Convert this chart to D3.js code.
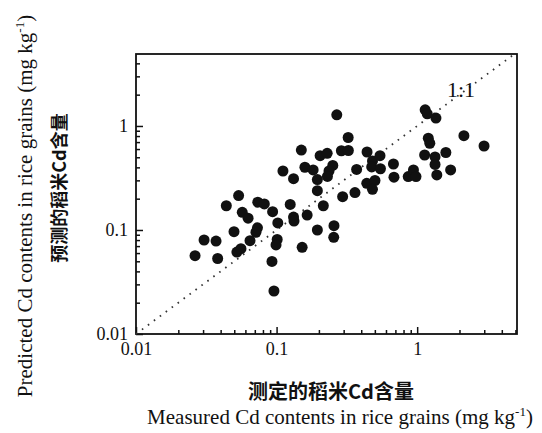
<!DOCTYPE html>
<html>
<head>
<meta charset="utf-8">
<script src="https://cdn.jsdelivr.net/npm/d3@7"></script>
<style>
  html, body { margin: 0; padding: 0; background: #fff; }
  svg { display: block; }
  .tick text { font-family: 'Liberation Serif', 'Times New Roman', serif !important; }
</style>
</head>
<body>
<svg id="chart" width="542" height="433"></svg>
<script>
// ---- data ----
const measured = [0.0263, 0.0305, 0.0371, 0.0381, 0.0439, 0.0498, 0.0522, 0.0558, 0.0537, 0.0570,
  0.0627, 0.0647, 0.0735, 0.0818, 0.0731, 0.0713, 0.0937, 0.102, 0.101, 0.0991,
  0.0927, 0.0958, 0.125, 0.132, 0.133, 0.165, 0.152, 0.195, 0.215, 0.256,
  0.255, 0.111, 0.132, 0.150, 0.159, 0.182, 0.195, 0.195, 0.204, 0.229,
  0.251, 0.236, 0.230, 0.268, 0.323, 0.289, 0.324, 0.295, 0.361, 0.371,
  0.440, 0.481, 0.544, 0.475, 0.548, 0.678, 0.684, 0.438, 0.501, 0.481,
  0.864, 0.941, 0.981, 1.14, 1.18, 1.36, 2.15, 2.99, 1.20, 1.23,
  1.13, 1.34, 1.60, 1.34, 1.38, 1.73];
const predicted = [0.0566, 0.0801, 0.0783, 0.0532, 0.171, 0.0964, 0.0614, 0.0661, 0.214, 0.148,
  0.130, 0.0789, 0.185, 0.178, 0.105, 0.0951, 0.150, 0.117, 0.0811, 0.0718,
  0.0498, 0.0259, 0.176, 0.133, 0.122, 0.139, 0.0682, 0.100, 0.171, 0.110,
  0.0851, 0.369, 0.311, 0.587, 0.401, 0.378, 0.305, 0.239, 0.518, 0.546,
  0.417, 0.369, 0.327, 1.28, 0.775, 0.578, 0.581, 0.209, 0.229, 0.382,
  0.562, 0.461, 0.518, 0.404, 0.388, 0.431, 0.322, 0.281, 0.299, 0.246,
  0.326, 0.378, 0.326, 1.43, 1.31, 1.19, 0.807, 0.642, 0.762, 0.682,
  0.526, 0.504, 0.556, 0.427, 0.338, 0.378];
const xTickValues = [0.01, 0.1, 1];
const xTickLabels = ["0.01", "0.1", "1"];
const yTickValues = [0.01, 0.1, 1];
const yTickLabels = ["0.01", "0.1", "1"];
const xDomain = [0.01, 5.13];
const yDomain = [0.01, 4.92];
const lineLabel = "1:1";
const xTitleCN = "测定的稻米Cd含量";
const xTitleEN = "Measured Cd contents in rice grains (mg kg";
const yTitleCN = "预测的稻米Cd含量";
const yTitleEN = "Predicted Cd contents in rice grains (mg kg";

// ---- layout ----
const L = 136, R = 517, T = 54, B = 334;
const serif = "'Liberation Serif', 'Times New Roman', serif";
const cjk = "'Noto Sans CJK SC', sans-serif";
const ink = "#111";

const svg = d3.select("#chart");
const x = d3.scaleLog().domain(xDomain).range([L, R]);
const y = d3.scaleLog().domain(yDomain).range([B, T]);

// minor ticks from the scale's own tick generator
const xMinor = x.ticks().filter(v => !xTickValues.some(m => Math.abs(m - v) < 1e-9));
const yMinor = y.ticks().filter(v => !yTickValues.some(m => Math.abs(m - v) < 1e-9));

function styleAxis(g) {
  g.attr("font-family", serif).attr("font-size", 18);
  g.select(".domain").remove();
  g.selectAll("line").attr("stroke", ink).attr("stroke-width", 1.5);
  g.selectAll("text").attr("fill", ink).attr("font-family", serif)
    .style("font-family", serif).style("font-size", "18px");
}

// bottom axis
svg.append("g").attr("transform", `translate(0,${B})`)
  .call(d3.axisBottom(x).tickValues(xMinor).tickSize(-4).tickFormat(""))
  .call(styleAxis);
svg.append("g").attr("transform", `translate(0,${B})`)
  .call(d3.axisBottom(x).tickValues(xTickValues).tickSize(-7).tickPadding(8)
    .tickFormat((d, i) => xTickLabels[i]))
  .call(styleAxis);

// left axis
svg.append("g").attr("transform", `translate(${L},0)`)
  .call(d3.axisLeft(y).tickValues(yMinor).tickSize(-4).tickFormat(""))
  .call(styleAxis);
svg.append("g").attr("transform", `translate(${L},0)`)
  .call(d3.axisLeft(y).tickValues(yTickValues).tickSize(-7).tickPadding(8)
    .tickFormat((d, i) => yTickLabels[i]))
  .call(styleAxis);

// frame
svg.append("rect").attr("x", L).attr("y", T).attr("width", R - L).attr("height", B - T)
  .attr("fill", "none").attr("stroke", ink).attr("stroke-width", 1.8);

// 1:1 line (clipped to plot)
svg.append("clipPath").attr("id", "clip").append("rect")
  .attr("x", L).attr("y", T).attr("width", R - L).attr("height", B - T);
const lo = Math.max(xDomain[0], yDomain[0]), hi = Math.min(xDomain[1], yDomain[1]);
svg.append("line")
  .attr("x1", x(lo)).attr("y1", y(lo)).attr("x2", x(hi)).attr("y2", y(hi))
  .attr("stroke", "#333").attr("stroke-width", 1.8)
  .attr("stroke-dasharray", "1.6 5.8");

svg.append("text").attr("x", 447).attr("y", 97)
  .style("font-family", serif).style("font-size", "22px").attr("fill", ink)
  .text(lineLabel);

// points
svg.append("g").attr("clip-path", "url(#clip)")
  .selectAll("circle").data(measured.map((m, i) => [m, predicted[i]]))
  .join("circle")
  .attr("cx", d => x(d[0])).attr("cy", d => y(d[1]))
  .attr("r", 5.5).attr("fill", ink);

// x titles
svg.append("text").attr("x", 331).attr("y", 399)
  .attr("text-anchor", "middle")
  .style("font-family", cjk).style("font-size", "20px").style("font-weight", "700")
  .attr("fill", ink).text(xTitleCN);
const xe = svg.append("text").attr("x", 340).attr("y", 424)
  .attr("text-anchor", "middle")
  .style("font-family", serif).style("font-size", "21px").attr("fill", ink);
xe.append("tspan").text(xTitleEN);
xe.append("tspan").attr("dy", -8).style("font-size", "13px").text("-1");
xe.append("tspan").attr("dy", 8).text(")");

// y titles
const ye = svg.append("text").attr("transform", "translate(32,206) rotate(-90)")
  .attr("text-anchor", "middle")
  .style("font-family", serif).style("font-size", "21px").attr("fill", ink);
ye.append("tspan").text(yTitleEN);
ye.append("tspan").attr("dy", -8).style("font-size", "13px").text("-1");
ye.append("tspan").attr("dy", 8).text(")");

svg.append("text").attr("transform", "translate(66,188) rotate(-90)")
  .attr("text-anchor", "middle")
  .style("font-family", cjk).style("font-size", "18px").style("font-weight", "700")
  .attr("fill", ink).text(yTitleCN);
</script>
</body>
</html>
